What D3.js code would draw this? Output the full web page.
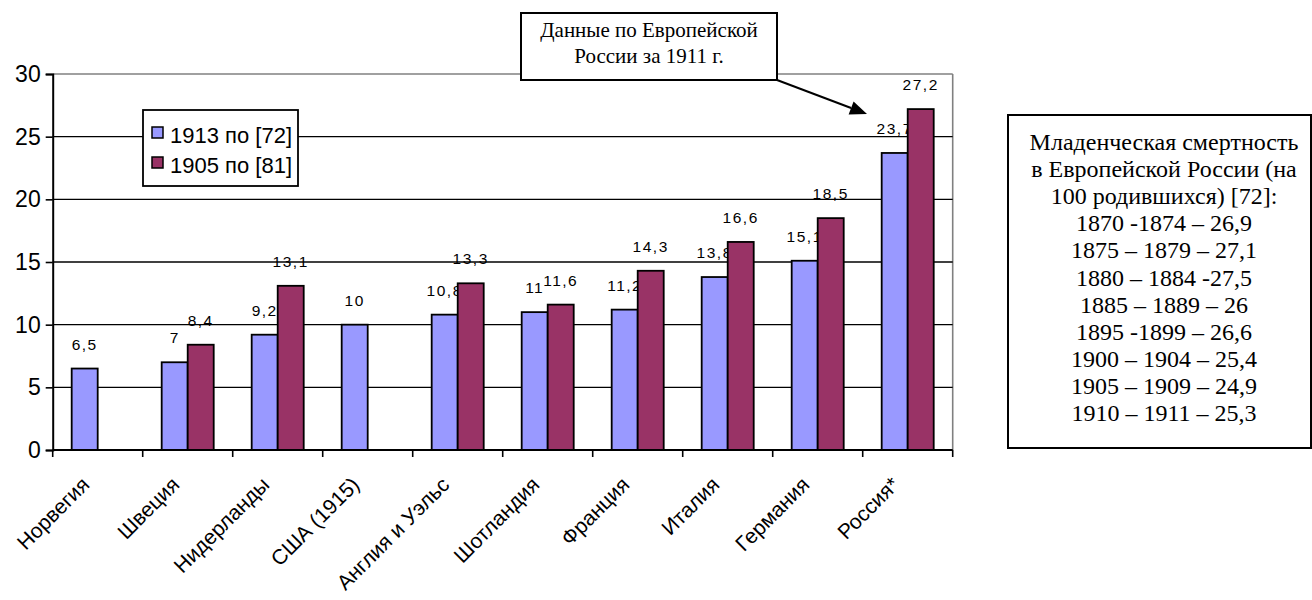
<!DOCTYPE html>
<html>
<head>
<meta charset="utf-8">
<script src="https://cdn.jsdelivr.net/npm/d3@7"></script>
<style>
  html, body { margin: 0; padding: 0; background: #fff; }
  svg { display: block; }
</style>
</head>
<body>
<svg id="chart" width="1312" height="600"></svg>
<script>
// ---- Data ----
const categories = ["Норвегия", "Швеция", "Нидерланды", "США (1915)", "Англия и Уэльс",
  "Шотландия", "Франция", "Италия", "Германия", "Россия*"];
const seriesNames = ["1913 по [72]", "1905 по [81]"];
const values1913 = [6.5, 7, 9.2, 10, 10.8, 11, 11.2, 13.8, 15.1, 23.7];
const values1905 = [null, 8.4, 13.1, null, 13.3, 11.6, 14.3, 16.6, 18.5, 27.2];
const yTicks = [0, 5, 10, 15, 20, 25, 30];
const calloutLines = ["Данные по Европейской", "России за 1911 г."];
const noteLines = ["Младенческая смертность", "в Европейской России (на", "100 родившихся) [72]:",
  "1870 -1874 – 26,9", "1875 – 1879 – 27,1", "1880 – 1884 -27,5", "1885 – 1889 – 26",
  "1895 -1899 – 26,6", "1900 – 1904 – 25,4", "1905 – 1909 – 24,9", "1910 – 1911 – 25,3"];

const colors = ["#9999FF", "#993366"];
const SANS = "'Liberation Sans', Arial, sans-serif";
const SERIF = "'Liberation Serif', 'Times New Roman', serif";

const svg = d3.select("#chart");
const pLeft = 52.7, pRight = 952.7, pTop = 74, pBottom = 450;

const x = d3.scaleBand().domain(categories).range([pLeft, pRight]).padding(0);
const xs = d3.scaleBand().domain(seriesNames).range([0, x.bandwidth()]).paddingInner(0).paddingOuter(0.73);
const y = d3.scaleLinear().domain([0, 30]).range([pBottom, pTop]);

// plot border (top / right in gray)
svg.append("line").attr("x1", pLeft).attr("x2", pRight).attr("y1", pTop).attr("y2", pTop)
  .attr("stroke", "#808080").attr("stroke-width", 1.6);
svg.append("line").attr("x1", pRight).attr("x2", pRight).attr("y1", pTop).attr("y2", pBottom)
  .attr("stroke", "#808080").attr("stroke-width", 1.6);

// gridlines
svg.append("g").selectAll("line").data(yTicks.filter(t => t > 0 && t < 30)).join("line")
  .attr("x1", pLeft).attr("x2", pRight)
  .attr("y1", d => y(d)).attr("y2", d => y(d))
  .attr("stroke", "#000").attr("stroke-width", 1.3);

// Y axis
const yAxis = d3.axisLeft(y).tickValues(yTicks).tickSize(7).tickPadding(5).tickFormat(d => d);
const gy = svg.append("g").attr("transform", `translate(${pLeft},0)`).call(yAxis);
gy.select(".domain").attr("stroke", "#000").attr("stroke-width", 2);
gy.selectAll(".tick line").attr("stroke", "#000").attr("stroke-width", 1.6);
gy.selectAll(".tick text").attr("font-family", SANS).attr("font-size", 23).attr("fill", "#000");

// X axis ticks at band boundaries
const boundaries = categories.map(c => x(c)).concat([pRight]);
svg.append("g").selectAll("line").data(boundaries).join("line")
  .attr("x1", d => d).attr("x2", d => d).attr("y1", pBottom).attr("y2", pBottom + 7)
  .attr("stroke", "#000").attr("stroke-width", 1.6);

// bars
const series = [values1913, values1905];
series.forEach((vals, si) => {
  const g = svg.append("g");
  const data = categories.map((c, i) => ({ c, v: vals[i] })).filter(d => d.v != null);
  g.selectAll("rect").data(data).join("rect")
    .attr("x", d => x(d.c) + xs(seriesNames[si]))
    .attr("width", xs.bandwidth())
    .attr("y", d => y(d.v))
    .attr("height", d => y(0) - y(d.v))
    .attr("fill", colors[si]).attr("stroke", "#000").attr("stroke-width", 1.8);
  g.selectAll("text").data(data).join("text")
    .attr("x", d => x(d.c) + xs(seriesNames[si]) + xs.bandwidth() / 2)
    .attr("y", d => y(d.v) - 19)
    .attr("text-anchor", "middle")
    .attr("font-family", SANS).attr("font-size", 15.5).attr("letter-spacing", 1.5)
    .text(d => String(d.v).replace(".", ","));
});

// x axis line
svg.append("line").attr("x1", pLeft).attr("x2", pRight).attr("y1", pBottom).attr("y2", pBottom)
  .attr("stroke", "#000").attr("stroke-width", 2);

// category labels
svg.append("g").selectAll("text").data(categories).join("text")
  .attr("transform", d => `translate(${x(d) + x.bandwidth() / 2 - 7},${pBottom + 36}) rotate(-45)`)
  .attr("text-anchor", "end")
  .attr("font-family", SANS).attr("font-size", 21).attr("fill", "#000")
  .text(d => d);

// legend
const lg = svg.append("g");
lg.append("rect").attr("x", 143).attr("y", 110).attr("width", 155).attr("height", 76)
  .attr("fill", "#fff").attr("stroke", "#000").attr("stroke-width", 1.8);
seriesNames.forEach((s, i) => {
  const by = 143 + i * 30;
  lg.append("rect").attr("x", 152).attr("y", by - 16).attr("width", 11).attr("height", 11)
    .attr("fill", colors[i]).attr("stroke", "#000").attr("stroke-width", 1.5);
  lg.append("text").attr("x", 170).attr("y", by).attr("font-family", SANS)
    .attr("font-size", 22).text(s);
});

// callout box with arrow
svg.append("rect").attr("x", 521).attr("y", 13).attr("width", 256).attr("height", 67)
  .attr("fill", "#fff").attr("stroke", "#000").attr("stroke-width", 2);
calloutLines.forEach((t, i) => {
  svg.append("text").attr("x", 649).attr("y", 37 + i * 26).attr("text-anchor", "middle")
    .attr("font-family", SERIF).attr("font-size", 21).text(t);
});
const ax1 = 777, ay1 = 80, ax2 = 867, ay2 = 114;
const ang = Math.atan2(ay2 - ay1, ax2 - ax1);
const hl = 17, hw = 7;
const bx = ax2 - hl * Math.cos(ang), byy = ay2 - hl * Math.sin(ang);
svg.append("line").attr("x1", ax1).attr("y1", ay1).attr("x2", bx).attr("y2", byy)
  .attr("stroke", "#000").attr("stroke-width", 2);
svg.append("polygon").attr("points", [
  [ax2, ay2],
  [bx + hw * Math.sin(ang), byy - hw * Math.cos(ang)],
  [bx - hw * Math.sin(ang), byy + hw * Math.cos(ang)]
].map(p => p.join(",")).join(" ")).attr("fill", "#000");

// note box
svg.append("rect").attr("x", 1008).attr("y", 115).attr("width", 303).attr("height", 333)
  .attr("fill", "#fff").attr("stroke", "#000").attr("stroke-width", 2);
noteLines.forEach((t, i) => {
  svg.append("text").attr("x", 1164).attr("y", 150 + i * 27.1).attr("text-anchor", "middle")
    .attr("font-family", SERIF).attr("font-size", 24).text(t);
});
</script>
</body>
</html>
